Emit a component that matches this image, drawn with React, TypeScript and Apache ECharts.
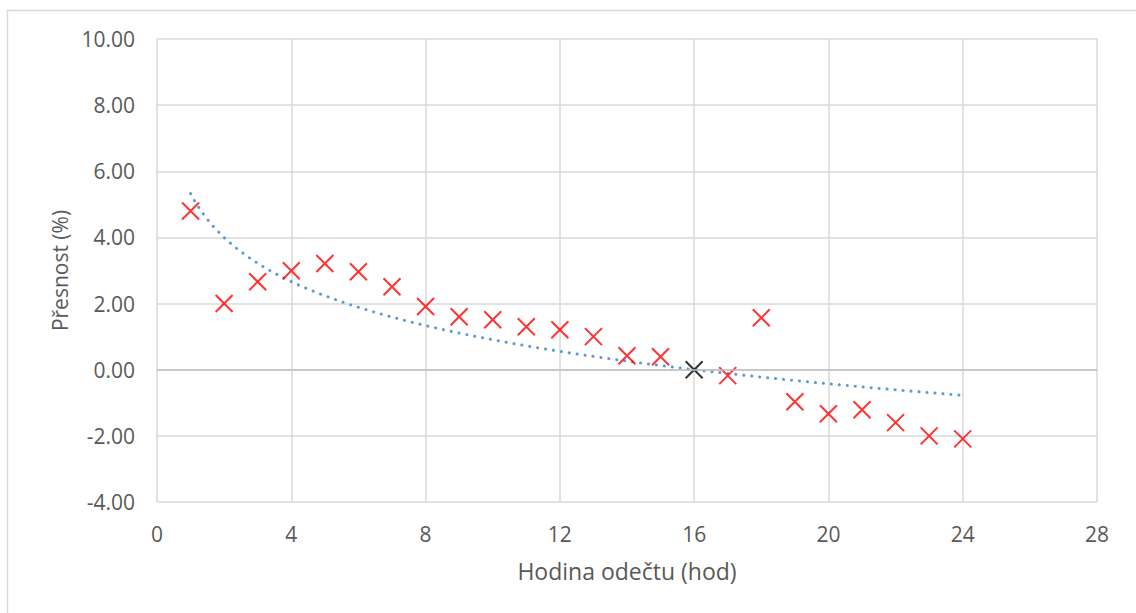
import React, { useEffect, useRef } from "react";
import * as echarts from "echarts";

const hours = [1, 2, 3, 4, 5, 6, 7, 8, 9, 10, 11, 12, 13, 14, 15, 16, 17, 18, 19, 20, 21, 22, 23, 24];
const accuracy = [4.80, 2.00, 2.66, 2.99, 3.21, 2.96, 2.51, 1.91, 1.60, 1.51, 1.30, 1.21, 1.00, 0.42, 0.39, 0.00, -0.18, 1.57, -0.97, -1.33, -1.21, -1.60, -2.00, -2.09];
const referenceHour = 16;

// Logarithmic trendline fitted from the data (least squares of y on ln x)
function fitLog(xs: number[], ys: number[]) {
  const n = xs.length;
  const lx = xs.map((x) => Math.log(x));
  const mx = lx.reduce((a, b) => a + b, 0) / n;
  const my = ys.reduce((a, b) => a + b, 0) / n;
  let sxy = 0, sxx = 0;
  for (let i = 0; i < n; i++) {
    sxy += (lx[i] - mx) * (ys[i] - my);
    sxx += (lx[i] - mx) * (lx[i] - mx);
  }
  const a = sxy / sxx;
  const b = my - a * mx;
  return { a, b };
}

const X_PATH = "path://M0,0L10,10M10,0L0,10";

export default function App() {
  const ref = useRef<HTMLDivElement>(null);
  useEffect(() => {
    if (!ref.current) return;
    const chart = echarts.init(ref.current, undefined, { renderer: "svg" });
    const { a, b } = fitLog(hours, accuracy);
    const trend: number[][] = [];
    const x0 = hours[0], x1 = hours[hours.length - 1];
    const steps = 200;
    for (let i = 0; i <= steps; i++) {
      const x = x0 + ((x1 - x0) * i) / steps;
      trend.push([x, a * Math.log(x) + b]);
    }
    const pts = hours.map((h, i) => {
      const item: any = { value: [h, accuracy[i]] };
      if (h === referenceHour) item.itemStyle = { borderColor: "#000000" };
      return item;
    });
    const font = "'Open Sans'";
    chart.setOption({
      animation: false,
      backgroundColor: "#ffffff",
      textStyle: { fontFamily: font },
      graphic: [
        {
          type: "rect",
          shape: { x: 7.5, y: 10.5, width: 1140, height: 640 },
          style: { fill: "none", stroke: "#d9d9d9", lineWidth: 1.5 },
          silent: true,
        },
      ],
      grid: { left: 157, top: 39, right: 39, bottom: 111, containLabel: false },
      xAxis: {
        type: "value",
        min: 0,
        max: 28,
        interval: 4,
        name: "Hodina odečtu (hod)",
        nameLocation: "middle",
        nameGap: 57,
        nameTextStyle: { fontSize: 23, color: "#595959", fontFamily: font },
        axisLine: { show: false, onZero: false },
        axisTick: { show: false },
        axisLabel: { fontSize: 21, color: "#595959", margin: 21, fontFamily: font },
        splitLine: { show: true, lineStyle: { color: "#d9d9d9", width: 1.5 } },
      },
      yAxis: {
        type: "value",
        min: -4,
        max: 10,
        interval: 2,
        name: "Přesnost (%)",
        nameLocation: "middle",
        nameGap: 84,
        nameRotate: 90,
        nameTextStyle: { fontSize: 21, color: "#595959", fontFamily: font },
        axisLine: { show: false },
        axisTick: { show: false },
        axisLabel: {
          fontSize: 21,
          color: "#595959",
          margin: 22,
          fontFamily: font,
          formatter: (v: number) => v.toFixed(2),
        },
        splitLine: { show: true, lineStyle: { color: "#d9d9d9", width: 1.5 } },
      },
      series: [
        {
          type: "line",
          data: trend,
          showSymbol: false,
          symbol: "none",
          silent: true,
          z: 1,
          lineStyle: { color: "#5b9bd5", width: 3, type: [0.1, 7.9], cap: "round" },
          markLine: {
            silent: true,
            symbol: "none",
            label: { show: false },
            lineStyle: { color: "#bfbfbf", width: 1.5, type: "solid" },
            data: [{ yAxis: 0 }],
          },
        },
        {
          type: "scatter",
          data: pts,
          symbol: X_PATH,
          symbolSize: 17,
          z: 3,
          itemStyle: { color: "none", borderColor: "#ff0000", borderWidth: 2 },
        },
      ],
    });
    return () => chart.dispose();
  }, []);
  return (
    <div
      ref={ref}
      style={{ position: "absolute", left: 0, top: 0, width: 1136, height: 613 }}
    />
  );
}
